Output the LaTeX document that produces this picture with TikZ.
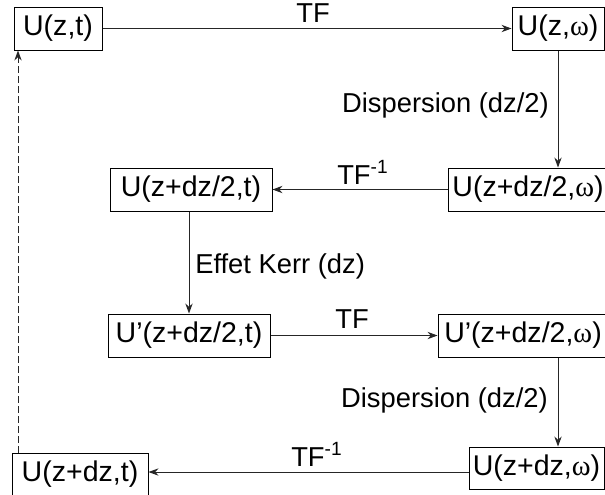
\documentclass[tikz,border=0pt]{standalone}
\usepackage{fontspec}
\setmainfont{Liberation Sans}
\newfontfamily\grk{Liberation Serif}
\usetikzlibrary{arrows.meta}
\newcommand{\om}{{\grk ω}}
\tikzset{
  stagebox/.style={draw=black, line width=0.75pt, inner sep=0pt, align=center,
    font=\fontsize{21.4}{24}\selectfont},
  steplabel/.style={inner sep=0pt, font=\fontsize{20.5}{24}\selectfont},
  flow/.style={draw=black!85, line width=0.75pt, -{Stealth[length=7.5pt,width=5.5pt]}},
  loopback/.style={flow, dash pattern=on 5pt off 2.5pt}
}
\begin{document}
\begin{tikzpicture}[x=0.75pt, y=-0.75pt]
\useasboundingbox (0,0) rectangle (605,494);
\clip (0,0) rectangle (605,494);

% field states (time and frequency domains)
\node[stagebox, minimum width=66pt, minimum height=32.25pt] (A) at (58,28.5) {U(z,t)};
\node[stagebox, minimum width=69pt, minimum height=32.25pt] (B) at (558,28.5) {U(z,\om)};
\node[stagebox, minimum width=120pt, minimum height=32.25pt] (C) at (528,189.5) {U(z+dz/2,\om)};
\node[stagebox, minimum width=121.5pt, minimum height=32.25pt] (D) at (191,189.5) {U(z+dz/2,t)};
\node[stagebox, minimum width=121.5pt, minimum height=32.25pt] (E) at (189,335.5) {U’(z+dz/2,t)};
\node[stagebox, minimum width=127.5pt, minimum height=32.25pt] (F) at (523,335.5) {U’(z+dz/2,\om)};
\node[stagebox, minimum width=101.25pt, minimum height=31.5pt] (G) at (536.5,468) {U(z+dz,\om)};
\node[stagebox, minimum width=102pt, minimum height=32.25pt] (H) at (80,474.5) {U(z+dz,t)};

% guide coordinates for connectors that are off centre
\coordinate (fg) at (558,0);
\coordinate (gh) at (0,472);
\coordinate (da) at (18,0);

% connectors
\draw[flow] (A.east) -- (B.west);
\draw[flow] (B.south) -- (B.south |- C.north);
\draw[flow] (C.west) -- (D.east);
\draw[flow] (E.north |- D.south) -- (E.north);
\draw[flow] (E.east) -- (F.west);
\draw[flow] (F.south -| fg) -- (G.north -| fg);
\draw[flow] (G.west |- gh) -- (H.east |- gh);
\draw[loopback] (H.north -| da) -- (A.south -| da);

% step labels
\node[steplabel, anchor=base] (l1) at (313,22) {TF};
\node[steplabel, anchor=base east] (l2) at (549,112) {Dispersion (dz/2)};
\node[steplabel, anchor=base west] (l3) at (337,184) {TF\textsuperscript{-1}};
\node[steplabel, anchor=base west] (l4) at (195,273) {Effet Kerr (dz)};
\node[steplabel, anchor=base] (l5) at (352,328) {TF};
\node[steplabel, anchor=base east] (l6) at (548,407) {Dispersion (dz/2)};
\node[steplabel, anchor=base west] (l7) at (291,466) {TF\textsuperscript{-1}};
\end{tikzpicture}
\end{document}
